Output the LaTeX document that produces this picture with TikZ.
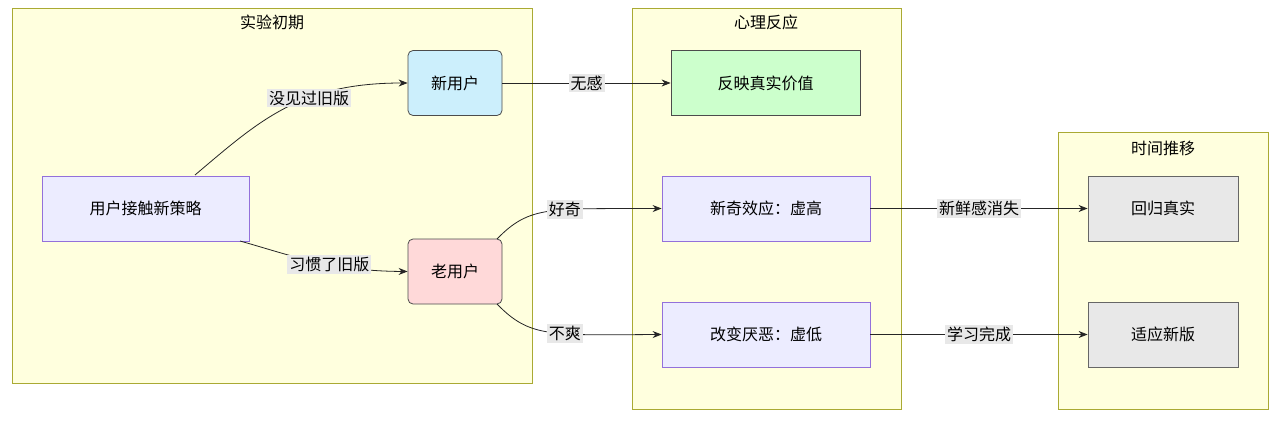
\documentclass[tikz,border=0pt]{standalone}
\usepackage{fontspec}
\setmainfont{Noto Sans CJK SC}
\usetikzlibrary{arrows.meta}
\definecolor{cl}{HTML}{FFFFDE}\definecolor{clb}{HTML}{AAAA33}
\definecolor{lav}{HTML}{ECECFF}\definecolor{lavb}{HTML}{9370DB}
\definecolor{lbl}{HTML}{E8E8E8}
\begin{document}
\begin{tikzpicture}[x=1pt,y=-1pt,
 font=\fontsize{16}{18}\selectfont,
 cl/.style={draw=clb,fill=cl,line width=0.8pt},
 nd/.style={draw=lavb,fill=lav,line width=0.8pt,minimum height=65pt,anchor=center},
 rn/.style={draw=black!70,rounded corners=5pt,line width=0.8pt,minimum height=65pt,minimum width=94pt},
 gr/.style={draw=black!60,fill=lbl,line width=0.8pt,minimum height=65pt,minimum width=150pt},
 lb/.style={fill=lbl,inner sep=2pt},
 ar/.style={-{Stealth[length=9pt,width=7pt]},line width=0.8pt,draw=black!85}]
\useasboundingbox (0,0) rectangle (1280,436);
\fill[white] (0,0) rectangle (1280,436);
\draw[cl] (12,8) rectangle (532,383);
\draw[cl] (632,8) rectangle (901,409);
\draw[cl] (1058,132) rectangle (1268,409);
\node (t1) at (272,22) {实验初期};
\node (t2) at (766,22) {心理反应};
\node (t3) at (1163,148) {时间推移};
\node[nd,minimum width=207pt] (u) at (145.5,208.5) {用户接触新策略};
\node[rn,fill=cyan!20] (n) at (455,83) {新用户};
\node[rn,fill=red!15] (o) at (455,271.5) {老用户};
\node[nd,draw=black!70,fill=green!20,minimum width=189pt] (r) at (765.5,83) {反映真实价值};
\node[nd,minimum width=208pt] (h) at (766,208.5) {新奇效应：虚高};
\node[nd,minimum width=208pt] (l) at (766,334.5) {改变厌恶：虚低};
\node[gr] (g) at (1163,208.5) {回归真实};
\node[gr] (a) at (1163,334.5) {适应新版};
\draw[ar] (195,175) .. controls (260,120) and (300,83) .. node[lb,pos=0.62]{没见过旧版} (n.west);
\draw[ar] (240,241) .. controls (290,255) and (330,271) .. node[lb,pos=0.6]{习惯了旧版} (o.west);
\draw[ar] (n.east) -- node[lb]{无感} (r.west);
\draw[ar] (497,239) .. controls (530,205) and (550,209) .. node[lb,pos=0.6]{好奇} (h.west);
\draw[ar] (497,304) .. controls (530,338) and (550,335) .. node[lb,pos=0.6]{不爽} (l.west);
\draw[ar] (h.east) -- node[lb]{新鲜感消失} (g.west);
\draw[ar] (l.east) -- node[lb]{学习完成} (a.west);
\end{tikzpicture}
\end{document}
